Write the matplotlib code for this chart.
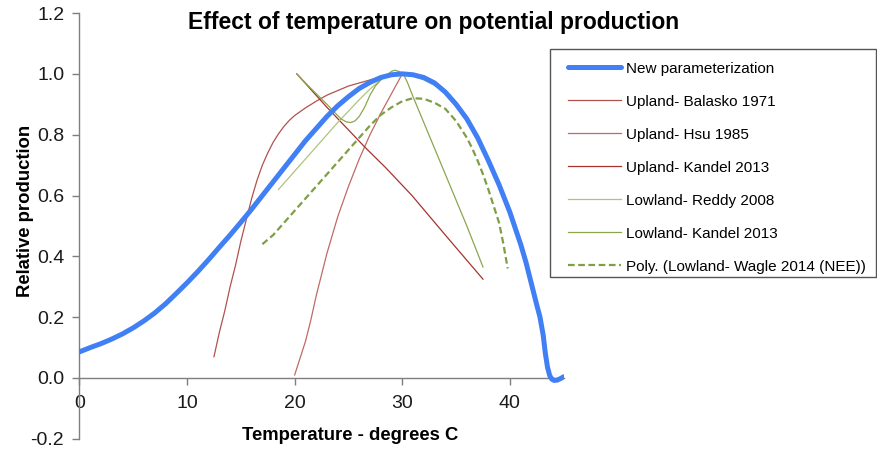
import matplotlib
matplotlib.use("Agg")
import matplotlib.pyplot as plt
from matplotlib.patches import Rectangle

plt.rcParams['font.family'] = ['Liberation Sans', 'DejaVu Sans']

# new parameterization (temperature, relative production)
new_t = [0, 1, 2, 3, 4, 5, 6, 7, 8, 9, 10, 11, 12, 13, 14, 15, 16, 17, 18, 19, 20,
         21, 22, 23, 24, 25, 26, 27, 28, 29, 30, 31, 32, 33, 34, 35, 36, 37, 38, 39,
         40, 41, 41.5, 42, 42.5, 42.8, 43.1, 43.3, 43.5, 43.7, 43.9, 44.1, 44.4, 44.7, 45]
new_y = [0.086, 0.10, 0.113, 0.128, 0.145, 0.165, 0.188, 0.214, 0.244, 0.278, 0.313,
         0.35, 0.389, 0.43, 0.47, 0.512, 0.555, 0.60, 0.645, 0.69, 0.735, 0.78, 0.82, 0.86,
         0.895, 0.925, 0.952, 0.972, 0.988, 0.997, 1.0, 0.997, 0.988, 0.97, 0.94, 0.90,
         0.852, 0.79, 0.715, 0.635, 0.545, 0.44, 0.38, 0.31, 0.24, 0.20, 0.14, 0.08,
         0.035, 0.008, -0.004, -0.008, -0.007, -0.002, 0.004]

balasko_t = [12.5, 13, 13.5, 14, 14.5, 15, 15.5, 16, 16.5, 17, 17.5, 18, 18.5, 19, 19.5,
             20, 21, 22, 23, 24, 25, 26, 27, 28, 29, 30]
balasko_y = [0.07, 0.15, 0.22, 0.30, 0.37, 0.45, 0.52, 0.59, 0.65, 0.70, 0.74, 0.775,
             0.803, 0.827, 0.847, 0.863, 0.888, 0.91, 0.93, 0.945, 0.96, 0.97, 0.98, 0.99,
             0.997, 1.0]

hsu_t = [20, 20.5, 21, 21.5, 22, 22.5, 23, 23.5, 24, 25, 26, 27, 28, 29, 30]
hsu_y = [0.01, 0.065, 0.12, 0.19, 0.27, 0.34, 0.41, 0.47, 0.53, 0.63, 0.72, 0.80, 0.87,
         0.935, 1.0]

kandel_up_t = [20.2, 23, 26.5, 28.5, 30.9, 34, 37.5]
kandel_up_y = [1.0, 0.89, 0.76, 0.69, 0.60, 0.47, 0.325]

reddy_t = [18.5, 20, 22, 24, 26, 27, 27.5, 28, 28.5, 29, 29.5, 30, 30.5, 31, 32, 33,
           34, 34.5]
reddy_y = [0.62, 0.68, 0.76, 0.84, 0.915, 0.95, 0.965, 0.98, 0.992, 1.0, 1.004, 1.003,
           0.999, 0.993, 0.98, 0.962, 0.94, 0.93]

kandel_low_t = [20.2, 21, 22, 23, 23.8, 24.3, 24.8, 25.2, 25.6, 26, 26.5, 27, 27.5, 28,
                28.5, 29, 29.3, 29.7, 30.1, 30.5, 31, 32, 33, 34, 35, 36, 37.5]
kandel_low_y = [1.0, 0.97, 0.935, 0.90, 0.87, 0.852, 0.842, 0.84, 0.845, 0.86, 0.89,
                0.93, 0.96, 0.98, 0.995, 1.008, 1.012, 1.008, 1.0, 0.97, 0.925, 0.84,
                0.755, 0.67, 0.585, 0.50, 0.365]

wagle_t = [17, 18, 19, 20, 21, 22, 23, 24, 25, 26, 27, 28, 29, 30, 31, 32, 33, 34, 35,
           36, 36.5, 37, 37.5, 38, 38.5, 39, 39.4, 39.8]
wagle_y = [0.44, 0.47, 0.51, 0.55, 0.59, 0.63, 0.67, 0.71, 0.75, 0.79, 0.83, 0.865,
           0.89, 0.91, 0.92, 0.918, 0.905, 0.885, 0.845, 0.79, 0.755, 0.715, 0.67, 0.62,
           0.565, 0.51, 0.44, 0.36]

W, H = 878, 451
fig = plt.figure(figsize=(W / 100, H / 100), dpi=100)
ax = fig.add_axes([0.0905, 0.027, 0.5515, 0.9441])

ax.plot(new_t, new_y, color='#4180f4', lw=3.6, solid_capstyle='round',
        label='New parameterization', zorder=3)
ax.plot(balasko_t, balasko_y, color='#b0524e', lw=0.9, label='Upland- Balasko 1971')
ax.plot(hsu_t, hsu_y, color='#c06a66', lw=0.9, label='Upland- Hsu 1985')
ax.plot(kandel_up_t, kandel_up_y, color='#a8322e', lw=0.9, label='Upland- Kandel 2013')
ax.plot(reddy_t, reddy_y, color='#adc47f', lw=0.9, label='Lowland- Reddy 2008')
ax.plot(kandel_low_t, kandel_low_y, color='#8ba64f', lw=0.9, label='Lowland- Kandel 2013')
ax.plot(wagle_t, wagle_y, color='#7f9e45', lw=1.6, ls=(0, (3, 1.6)),
        label='Poly. (Lowland- Wagle 2014 (NEE))', zorder=4)

ax.set_xlim(0, 45)
ax.set_ylim(-0.2, 1.2)
ax.spines['left'].set_position(('data', 0))
ax.spines['bottom'].set_position(('data', 0))
ax.spines['top'].set_visible(False)
ax.spines['right'].set_visible(False)
for s in ('left', 'bottom'):
    ax.spines[s].set_color('#7f7f7f')
    ax.spines[s].set_linewidth(1.0)

ax.set_xticks([0, 10, 20, 30, 40])
ax.set_yticks([-0.2, 0.0, 0.2, 0.4, 0.6, 0.8, 1.0, 1.2])
ax.set_yticklabels(['-0.2', '0.0', '0.2', '0.4', '0.6', '0.8', '1.0', '1.2'])
ax.tick_params(axis='both', direction='out', length=5, width=1.0, color='#7f7f7f',
               labelsize=14, labelcolor='#1a1a1a')
ax.tick_params(axis='x', pad=7)
ax.tick_params(axis='y', pad=6)

fig.text(350 / W, 1 - 435 / H, 'Temperature - degrees C', ha='center', va='center',
         fontsize=13.3, fontweight='bold')
fig.text(26 / W, 1 - 211 / H, 'Relative production', ha='center', va='center',
         rotation=90, fontsize=13.3, fontweight='bold')
fig.text(434 / W, 1 - 22 / H, 'Effect of temperature on potential production',
         ha='center', va='center', fontsize=16.5, fontweight='bold')

# legend box drawn separately so the frame can be placed freely
fig.patches.append(Rectangle((550 / W, 1 - 277 / H), 326 / W, 228 / H,
                             transform=fig.transFigure, fill=False,
                             edgecolor='#555555', lw=1.0))
leg = fig.legend(loc='upper left', bbox_to_anchor=(568 / W, 1 - 61.5 / H),
                 borderaxespad=0, borderpad=0, fontsize=11, handlelength=3.5,
                 handletextpad=0.3, labelspacing=1.245, frameon=False)

fig.savefig('out.png', dpi=100)
